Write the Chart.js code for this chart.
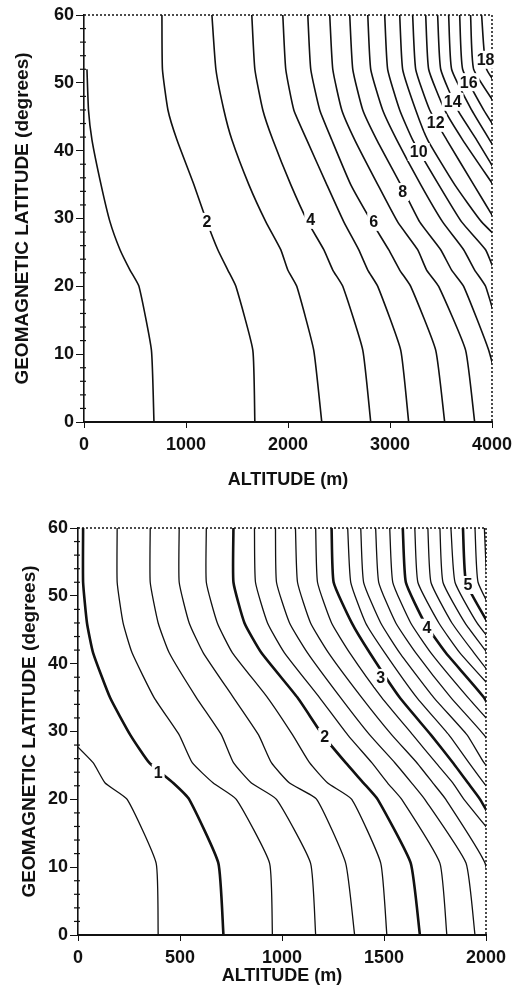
<!DOCTYPE html>
<html>
<head>
<meta charset="utf-8">
<script src="https://cdn.jsdelivr.net/npm/chart.js@4.4.1/dist/chart.umd.min.js"></script>
<style>
  html, body { margin: 0; padding: 0; background: #fff; }
  canvas { display: block; }
</style>
</head>
<body>
<canvas id="topChart" width="512" height="500"></canvas>
<canvas id="bottomChart" width="512" height="499"></canvas>
<script>
const lats = [60, 52, 46, 41.6, 35, 29.5, 25.4, 22.4, 20, 10.6, 0];
const latTicks = [0, 10, 20, 30, 40, 50, 60];

// upper panel: contours 1..18, altitude (m) at each latitude above
const topLevels = [1, 2, 3, 4, 5, 6, 7, 8, 9, 10, 11, 12, 13, 14, 15, 16, 17, 18];
const topAlt = [
  [null, 29, 44, 78, 167, 255, 353, 451, 539, 661, 686],
  [764, 769, 823, 911, 1077, 1205, 1312, 1410, 1489, 1655, 1675],
  [1254, 1293, 1371, 1450, 1616, 1783, 1929, 1998, 2086, 2252, 2331],
  [1645, 1675, 1753, 1851, 2027, 2194, 2351, 2439, 2537, 2733, 2811],
  [1949, 1978, 2057, 2184, 2380, 2547, 2693, 2782, 2880, 3105, 3183],
  [2194, 2223, 2311, 2429, 2615, 2821, 2987, 3095, 3203, 3448, 3536],
  [2409, 2439, 2527, 2654, 2880, 3075, 3271, 3359, 3477, 3741, 3830],
  [2605, 2635, 2733, 2870, 3105, 3291, 3497, 3604, 3722, 3967, 4150],
  [2782, 2811, 2928, 3066, 3301, 3516, 3722, 3830, 3937, 4123, null],
  [2948, 2977, 3095, 3222, 3477, 3702, 3937, 4020, null, null, null],
  [3095, 3124, 3252, 3369, 3634, 3898, 4177, null, null, null, null],
  [3222, 3252, 3389, 3556, 3820, 4041, null, null, null, null, null],
  [3350, 3379, 3536, 3712, 4010, null, null, null, null, null, null],
  [3467, 3497, 3663, 3849, 4113, null, null, null, null, null, null],
  [3575, 3604, 3800, 3976, 4250, null, null, null, null, null, null],
  [3683, 3712, 3918, 4104, null, null, null, null, null, null, null],
  [3790, 3820, 4070, null, null, null, null, null, null, null, null],
  [3898, 3947, 4230, null, null, null, null, null, null, null, null]
];
const topLabelText = ['2', '4', '6', '8', '10', '12', '14', '16', '18'];
const topLabelAlt = [1205, 2223, 2840, 3124, 3281, 3448, 3614, 3771, 3937];
const topLabelLat = [29.5, 29.8, 29.5, 33.9, 39.8, 44.1, 47.2, 50.1, 53.4];

// lower panel: contours every 0.2, altitude (m) at each latitude
const botLevels = [0.8, 1.0, 1.2, 1.4, 1.6, 1.8, 2.0, 2.2, 2.4, 2.6, 2.8, 3.0,
                   3.2, 3.4, 3.6, 3.8, 4.0, 4.2, 4.4, 4.6, 4.8, 5.0, 5.2, 5.4];
const botAlt = [
  [null, null, null, null, null, -60, 74, 133, 241, 383, 393],
  [25, 25, 44, 74, 157, 256, 349, 467, 545, 688, 713],
  [192, 192, 221, 265, 373, 496, 560, 663, 776, 939, 953],
  [354, 354, 393, 447, 580, 703, 762, 850, 973, 1140, 1165],
  [496, 496, 545, 614, 762, 885, 948, 1037, 1170, 1312, 1356],
  [629, 629, 683, 757, 929, 1052, 1135, 1224, 1342, 1484, 1514],
  [762, 762, 816, 899, 1076, 1199, 1312, 1400, 1469, 1631, 1676],
  [865, 870, 929, 1012, 1184, 1322, 1440, 1518, 1587, 1774, 1808],
  [968, 973, 1037, 1125, 1287, 1430, 1553, 1636, 1700, 1902, 1946],
  [1066, 1076, 1140, 1228, 1391, 1538, 1661, 1740, 1803, 1995, 2050],
  [1165, 1174, 1243, 1332, 1489, 1641, 1754, 1838, 1892, 2146, null],
  [1243, 1253, 1342, 1430, 1577, 1730, 1838, 1912, 1971, 2150, null],
  [1322, 1337, 1410, 1504, 1661, 1818, 1916, 1990, 2060, null, null],
  [1386, 1400, 1484, 1577, 1744, 1907, 1990, 2070, null, null, null],
  [1459, 1474, 1558, 1656, 1828, 1990, 2080, null, null, null, null],
  [1528, 1543, 1631, 1730, 1912, 2075, null, null, null, null, null],
  [1592, 1607, 1700, 1803, 1990, 2090, null, null, null, null, null],
  [1651, 1666, 1769, 1872, 2070, null, null, null, null, null, null],
  [1715, 1730, 1833, 1941, 2110, null, null, null, null, null, null],
  [1774, 1789, 1897, 2005, 2150, null, null, null, null, null, null],
  [1828, 1848, 1956, 2070, null, null, null, null, null, null, null],
  [1887, 1902, 2010, 2100, null, null, null, null, null, null, null],
  [1946, 1961, 2060, null, null, null, null, null, null, null, null],
  [1992, 2005, 2040, null, null, null, null, null, null, null, null]
];
const botLabelText = ['1', '2', '3', '4', '5'];
const botLabelAlt = [393, 1209, 1484, 1710, 1912];
const botLabelLat = [23.9, 29.2, 37.9, 45.3, 51.6];

const FONT = '"Liberation Sans", Arial, sans-serif';
const INK = '#111';
Chart.defaults.color = INK;
Chart.defaults.font.family = FONT;

function contours(levels, rows, widthOf) {
  return levels.map((lv, i) => ({
    label: String(lv),
    data: lats.map((la, j) => rows[i][j] == null ? null : { x: rows[i][j], y: la }).filter(p => p),
    showLine: true,
    pointRadius: 0,
    borderColor: INK,
    borderWidth: widthOf(lv),
    tension: 0.15
  }));
}

// dotted top/right frame, minor latitude ticks, contour labels
const extras = {
  id: 'extras',
  afterDatasetsDraw(chart, args, opts) {
    const { ctx, chartArea: a, scales } = chart;
    ctx.save();
    ctx.strokeStyle = INK;
    ctx.lineWidth = 1.5;
    ctx.setLineDash([2, 2]);
    ctx.beginPath();
    ctx.moveTo(a.left, a.top);
    ctx.lineTo(a.right, a.top);
    ctx.lineTo(a.right, a.bottom);
    ctx.stroke();
    ctx.setLineDash([]);

    ctx.lineWidth = 1.2;
    for (let v = 2; v < 60; v += 2) {
      if (v % 10 == 0) continue;
      const y = scales.y.getPixelForValue(v);
      ctx.beginPath();
      ctx.moveTo(a.left - 4, y);
      ctx.lineTo(a.left + 2, y);
      ctx.stroke();
    }

    ctx.font = 'bold 16px ' + FONT;
    ctx.textAlign = 'center';
    ctx.textBaseline = 'middle';
    opts.text.forEach((t, i) => {
      const x = scales.x.getPixelForValue(opts.alt[i]);
      const y = scales.y.getPixelForValue(opts.lat[i]);
      const w = ctx.measureText(t).width + 4;
      ctx.fillStyle = '#fff';
      ctx.fillRect(x - w / 2, y - 9, w, 18);
      ctx.fillStyle = INK;
      ctx.fillText(t, x, y + 1);
    });
    ctx.restore();
  }
};

function makeChart(id, cfg) {
  return new Chart(document.getElementById(id), {
    type: 'scatter',
    data: { datasets: cfg.datasets },
    options: {
      responsive: false,
      animation: false,
      events: [],
      layout: { padding: { top: cfg.padTop, right: cfg.padRight, left: 0, bottom: 0 } },
      plugins: {
        legend: { display: false },
        tooltip: { enabled: false },
        extras: cfg.labels
      },
      scales: {
        x: {
          type: 'linear', min: 0, max: cfg.xMax,
          ticks: { stepSize: cfg.xStep, padding: 6, maxRotation: 0,
                   callback: v => String(v),
                   font: { size: 18, weight: 'bold' } },
          grid: { drawOnChartArea: false, tickLength: 6, color: INK },
          border: { color: INK, width: 2 },
          title: { display: true, text: 'ALTITUDE (m)',
                   font: { size: 18, weight: 'bold' },
                   padding: { top: 0, bottom: cfg.xTitlePad } },
          afterFit: s => { s.height = cfg.xHeight; s.paddingLeft = 0; s.paddingRight = 0; }
        },
        y: {
          type: 'linear', min: 0, max: 60,
          afterBuildTicks: s => { s.ticks = latTicks.map(v => ({ value: v })); },
          ticks: { padding: 2, callback: v => String(v), font: { size: 18, weight: 'bold' } },
          grid: { drawOnChartArea: false, tickLength: 8, color: INK },
          border: { color: INK, width: 1.6 },
          title: { display: true, text: 'GEOMAGNETIC LATITUDE (degrees)',
                   font: { size: 19, weight: 'bold' },
                   padding: { top: cfg.yTitlePad, bottom: 0 } },
          afterFit: s => { s.width = cfg.yWidth; s.paddingTop = 0; s.paddingBottom = 0; }
        }
      }
    },
    plugins: [extras]
  });
}

makeChart('topChart', {
  datasets: contours(topLevels, topAlt, () => 1.6),
  labels: { text: topLabelText, alt: topLabelAlt, lat: topLabelLat },
  xMax: 4000, xStep: 1000,
  padTop: 15, padRight: 20, xHeight: 78, yWidth: 84,
  xTitlePad: 9, yTitlePad: 11
});

makeChart('bottomChart', {
  datasets: contours(botLevels, botAlt, lv => Number.isInteger(lv) ? 2.6 : 1.3),
  labels: { text: botLabelText, alt: botLabelAlt, lat: botLabelLat },
  xMax: 2000, xStep: 500,
  padTop: 28, padRight: 26, xHeight: 64, yWidth: 78,
  xTitlePad: 12, yTitlePad: 18
});
</script>
</body>
</html>
